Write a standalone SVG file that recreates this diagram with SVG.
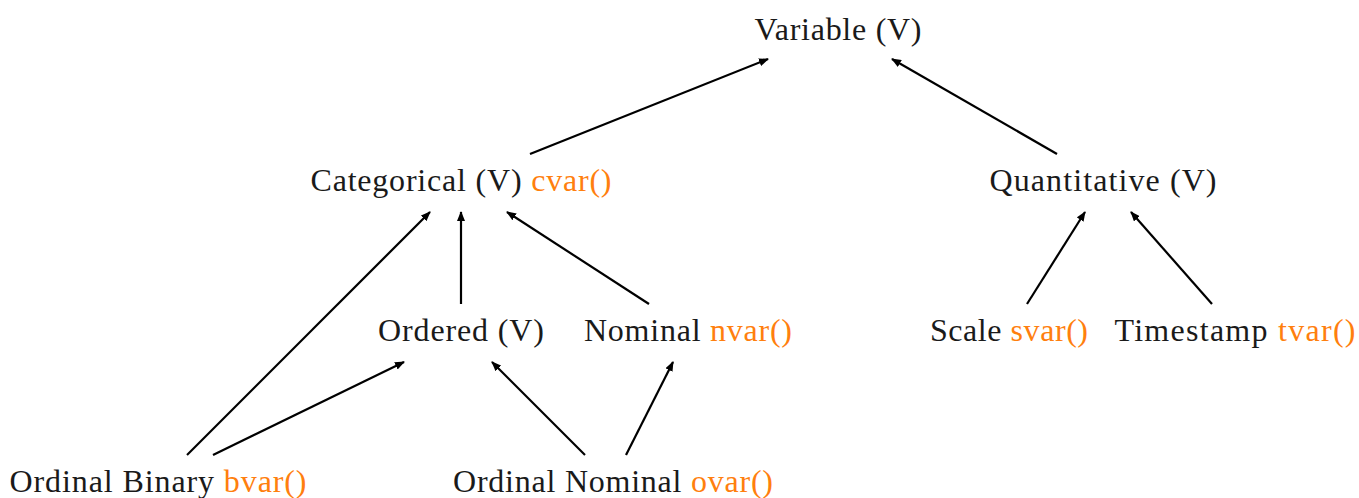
<svg xmlns="http://www.w3.org/2000/svg" width="1359" height="498" viewBox="0 0 1359 498">
<style>
text{font-family:"Liberation Serif","DejaVu Serif",serif;font-size:32px;fill:#1a1a1a;text-anchor:middle}
.f{fill:#ff7f0e}
.e{stroke:#000;stroke-width:2.2;fill:none;marker-end:url(#ah)}
</style>
<defs>
<marker id="ah" viewBox="0 0 10 8" refX="9" refY="4" markerWidth="10" markerHeight="8" markerUnits="userSpaceOnUse" orient="auto">
<path d="M0,0 L10,4 L0,8 Z" fill="#000"/>
</marker>
</defs>
<rect width="1359" height="498" fill="#fff"/>
<g id="connectors">
<line class="e" x1="530" y1="154" x2="768" y2="59"/>
<line class="e" x1="1057" y1="154" x2="892" y2="59"/>
<line class="e" x1="461" y1="304" x2="461" y2="212"/>
<line class="e" x1="649" y1="304" x2="507" y2="212"/>
<line class="e" x1="187" y1="455" x2="430" y2="212"/>
<line class="e" x1="213" y1="455" x2="404" y2="362"/>
<line class="e" x1="585" y1="455" x2="492" y2="362"/>
<line class="e" x1="626" y1="455" x2="673" y2="362"/>
<line class="e" x1="1027" y1="304" x2="1085" y2="212"/>
<line class="e" x1="1212" y1="304" x2="1131" y2="212"/>
</g>
<g id="variable"><text x="838" y="40" textLength="167">Variable (V)</text></g>
<g id="categorical"><text x="461" y="191" textLength="301">Categorical (V) <tspan class="f">cvar()</tspan></text></g>
<g id="quantitative"><text x="1103" y="191" textLength="227">Quantitative (V)</text></g>
<g id="ordered"><text x="461" y="341" textLength="166">Ordered (V)</text></g>
<g id="nominal"><text x="688" y="341" textLength="208">Nominal <tspan class="f">nvar()</tspan></text></g>
<g id="scale"><text x="1009" y="341" textLength="158">Scale <tspan class="f">svar()</tspan></text></g>
<g id="timestamp"><text x="1235" y="341" textLength="241">Timestamp <tspan class="f">tvar()</tspan></text></g>
<g id="ordinal-binary"><text x="158" y="492" textLength="297">Ordinal Binary <tspan class="f">bvar()</tspan></text></g>
<g id="ordinal-nominal"><text x="613" y="492" textLength="320">Ordinal Nominal <tspan class="f">ovar()</tspan></text></g>
</svg>
